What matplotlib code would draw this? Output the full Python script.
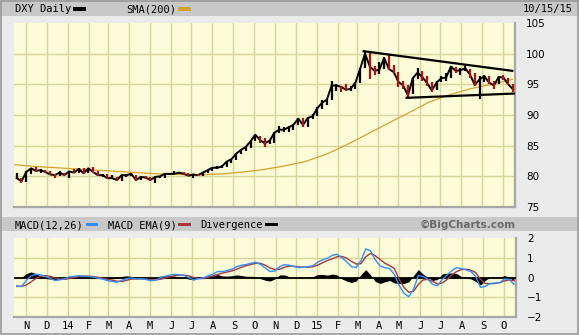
import matplotlib
matplotlib.use('Agg')
import matplotlib.pyplot as plt
from matplotlib.patches import Rectangle
import pandas as pd

W, H = 579, 335

# weekly bars (Fri closes, last one is 10/15/15)
week_dates = pd.date_range('2013-10-18', periods=105, freq='W-FRI')
close = [79.7, 79.2, 80.7, 81.3, 80.9, 81.0, 80.7, 80.3, 80.2, 80.6,
         80.2, 80.8, 80.6, 81.2, 80.5, 81.3, 80.7, 80.2, 80.2, 79.7,
         79.7, 79.4, 80.2, 80.2, 80.4, 79.4, 79.9, 79.8, 79.4, 79.9,
         80.0, 80.4, 80.4, 80.4, 80.6, 80.4, 80.1, 80.3, 80.2, 80.6,
         81.0, 81.4, 81.4, 81.6, 82.4, 82.8, 83.7, 84.3, 84.8, 85.7,
         86.8, 85.9, 85.4, 85.8, 87.1, 87.6, 87.6, 88.0, 88.4, 89.4,
         88.4, 89.5, 89.8, 91.1, 92.0, 92.5, 94.8, 94.8, 94.6, 94.1,
         94.3, 95.3, 97.6, 100.0, 97.9, 97.2, 97.4, 99.3, 97.5, 97.0,
         95.4, 94.8, 93.2, 96.0, 96.9, 96.2, 95.2, 94.0, 95.3, 96.0,
         96.1, 97.9, 97.2, 97.3, 97.6, 96.6, 94.9, 95.8, 96.3, 95.3,
         94.8, 96.2, 96.1, 95.0, 94.2]
high = [80.6, 79.8, 80.8, 81.4, 81.5, 81.2, 81.0, 80.9, 80.4, 80.8,
        80.6, 80.9, 81.2, 81.3, 81.4, 81.4, 81.5, 80.8, 80.4, 80.4,
        80.2, 79.9, 80.4, 80.4, 80.6, 80.2, 80.0, 80.0, 79.9, 79.9,
        80.1, 80.4, 80.6, 80.8, 80.7, 80.7, 80.5, 80.4, 80.4, 80.7,
        81.1, 81.6, 81.7, 81.8, 82.4, 82.8, 83.8, 84.4, 84.9, 85.8,
        86.8, 86.5, 86.2, 86.0, 87.2, 88.2, 88.0, 88.2, 88.5, 89.5,
        89.5, 89.6, 90.1, 91.3, 92.4, 92.6, 95.5, 95.1, 94.8, 95.0,
        94.7, 95.4, 97.7, 100.4, 100.3, 98.0, 98.6, 99.4, 100.0, 98.1,
        97.0, 95.6, 94.9, 96.1, 97.6, 97.1, 96.4, 95.4, 95.6, 96.3,
        96.9, 98.0, 97.9, 97.6, 98.2, 97.5, 96.9, 96.3, 96.6, 96.4,
        95.5, 96.4, 96.6, 96.0, 95.1]
low = [79.6, 78.9, 79.1, 80.3, 80.7, 80.5, 80.5, 80.2, 79.8, 80.0,
       80.0, 79.8, 80.5, 80.5, 80.4, 80.5, 80.6, 80.1, 79.9, 79.6,
       79.6, 79.3, 79.3, 79.9, 80.0, 79.3, 79.4, 79.6, 79.2, 78.9,
       79.8, 79.8, 80.2, 80.3, 80.3, 80.2, 80.0, 79.8, 80.0, 80.1,
       80.5, 80.9, 81.2, 81.3, 81.6, 82.2, 82.7, 83.6, 84.2, 84.6,
       85.7, 85.5, 84.8, 85.2, 85.5, 87.1, 87.3, 87.3, 87.6, 88.3,
       88.1, 88.0, 89.4, 89.8, 91.0, 91.6, 92.5, 93.9, 93.8, 94.0,
       93.9, 94.2, 95.2, 97.6, 95.8, 96.5, 96.7, 97.5, 97.4, 96.9,
       94.6, 94.3, 93.0, 93.4, 95.9, 95.5, 94.8, 93.7, 94.0, 95.3,
       95.6, 96.0, 96.9, 96.5, 97.1, 96.0, 94.8, 92.6, 95.3, 95.1,
       94.2, 95.0, 95.7, 94.9, 93.8]

sma_dates = pd.date_range('2013-10-01', periods=25, freq='MS') + pd.Timedelta(days=14)
sma200 = [81.9, 81.6, 81.4, 81.2, 81.0, 80.8, 80.6, 80.4, 80.3, 80.25,
          80.4, 80.7, 81.1, 81.7, 82.4, 83.6, 85.2, 86.8, 88.6, 90.3,
          92.1, 93.3, 94.3, 95.0, 95.8]

# trend lines drawn on the chart
upper_line = (['2015-03-11', '2015-10-15'], [100.4, 97.2])
lower_line = (['2015-05-13', '2015-10-19'], [92.8, 93.5])

macd = [-0.43, -0.45, -0.15, 0.08, 0.16, 0.14, 0.05, -0.04, -0.15, -0.12,
        -0.06, 0.02, 0.06, 0.09, 0.06, 0.06, 0.02, -0.04, -0.08, -0.16,
        -0.20, -0.24, -0.14, -0.06, -0.02, -0.08, -0.06, -0.10, -0.16, -0.14,
        -0.02, 0.06, 0.12, 0.16, 0.14, 0.10, 0.00, -0.12, -0.06, -0.02,
        0.08, 0.16, 0.30, 0.30, 0.35, 0.42, 0.55, 0.62, 0.66, 0.72,
        0.77, 0.66, 0.48, 0.30, 0.33, 0.55, 0.65, 0.62, 0.55, 0.50,
        0.52, 0.55, 0.60, 0.78, 0.90, 0.98, 1.12, 1.18, 1.00, 0.80,
        0.55, 0.50, 0.85, 1.45, 1.35, 0.90, 0.58, 0.50, 0.45, 0.15,
        -0.40, -0.80, -0.97, -0.60, 0.10, 0.05, -0.10, -0.35, -0.42, -0.10,
        0.12, 0.35, 0.50, 0.45, 0.38, 0.30, 0.05, -0.50, -0.45, -0.30,
        -0.28, -0.26, -0.08, -0.10, -0.34]
macd_ema = [-0.45, -0.45, -0.38, -0.22, -0.05, 0.06, 0.10, 0.06, -0.02, -0.08,
            -0.09, -0.05, 0.00, 0.05, 0.07, 0.06, 0.05, 0.01, -0.04, -0.09,
            -0.14, -0.19, -0.20, -0.14, -0.08, -0.07, -0.07, -0.08, -0.11, -0.13,
            -0.09, -0.03, 0.04, 0.09, 0.12, 0.12, 0.08, 0.00, -0.05, -0.05,
            0.00, 0.08, 0.15, 0.22, 0.28, 0.33, 0.42, 0.52, 0.60, 0.66,
            0.72, 0.72, 0.62, 0.48, 0.40, 0.42, 0.52, 0.58, 0.57, 0.54,
            0.52, 0.52, 0.55, 0.63, 0.75, 0.86, 0.95, 1.05, 1.07, 0.98,
            0.82, 0.68, 0.70, 1.05, 1.22, 1.10, 0.92, 0.72, 0.60, 0.45,
            -0.10, -0.50, -0.75, -0.70, -0.35, -0.12, -0.10, -0.20, -0.32, -0.28,
            -0.10, 0.12, 0.30, 0.40, 0.42, 0.37, 0.25, -0.10, -0.30, -0.32,
            -0.30, -0.26, -0.18, -0.12, -0.16]
divergence = [0.02, 0.00, 0.20, 0.28, 0.20, 0.08, -0.05, -0.08, -0.12, -0.04,
              0.03, 0.07, 0.06, 0.04, -0.01, 0.00, -0.03, -0.05, -0.04, -0.07,
              -0.06, -0.05, 0.06, 0.08, 0.06, -0.01, 0.01, -0.02, -0.05, -0.01,
              0.07, 0.09, 0.08, 0.07, 0.02, -0.02, -0.08, -0.12, -0.01, 0.03,
              0.08, 0.08, 0.15, 0.08, 0.07, 0.09, 0.13, 0.10, 0.06, 0.06,
              0.05, -0.06, -0.14, -0.18, -0.07, 0.13, 0.13, 0.04, -0.02, -0.04,
              0.00, 0.03, 0.05, 0.15, 0.15, 0.12, 0.17, 0.13, -0.07, -0.18,
              -0.25, -0.18, 0.15, 0.40, 0.13, -0.20, -0.30, -0.22, -0.15, -0.28,
              -0.30, -0.30, -0.22, 0.10, 0.40, 0.17, 0.00, -0.15, -0.10, 0.18,
              0.22, 0.23, 0.20, 0.05, -0.04, -0.07, -0.20, -0.38, -0.15, 0.02,
              0.02, 0.00, 0.10, 0.02, -0.18]

month_labels = ['N', 'D', '14', 'F', 'M', 'A', 'M', 'J', 'J', 'A', 'S', 'O',
                'N', 'D', '15', 'F', 'M', 'A', 'M', 'J', 'J', 'A', 'S', 'O']
price_ticks = [75, 80, 85, 90, 95, 100, 105]
macd_ticks = [-2, -1, 0, 1, 2]

BG = '#ebebeb'
BAR = '#c8c8c8'
PANEL = '#fcfcd8'
GRID = '#d8d49c'
UP, DOWN = '#000000', '#b01010'
SMA_C = '#d9a030'
BLUE, RED = '#2f8fff', '#a83838'


def fx(x):
    return x / W


def fy(y):
    return 1 - y / H


def rect(fig, x0, y0, x1, y1, color, z=0, **kw):
    fig.patches.append(Rectangle((fx(x0), fy(y1)), fx(x1) - fx(x0), fy(y0) - fy(y1),
                                 transform=fig.transFigure, facecolor=color,
                                 zorder=z, **kw))


fig = plt.figure(figsize=(W / 100, H / 100), dpi=100)
fig.patch.set_facecolor(BG)
rect(fig, 0, 0, W, 16, BAR)
rect(fig, 0, 217, W, 231, BAR)
rect(fig, 0.5, 0.5, W - 1, H - 1.5, 'none', edgecolor='#9a9a9a', linewidth=1.2)

mono = 'DejaVu Sans Mono'
fig.text(fx(15), fy(9), 'DXY Daily', family=mono, fontsize=7.5, va='center')
rect(fig, 73, 7.5, 86, 11, UP)
fig.text(fx(126), fy(9), 'SMA(200)', family=mono, fontsize=7.5, va='center')
rect(fig, 178, 7.5, 191, 11, SMA_C)
fig.text(fx(573), fy(9), '10/15/15', family=mono, fontsize=7.5, va='center', ha='right')

fig.text(fx(15), fy(225), 'MACD(12,26)', family=mono, fontsize=7.5, va='center')
rect(fig, 86, 222.5, 98, 226, BLUE)
fig.text(fx(108), fy(225), 'MACD EMA(9)', family=mono, fontsize=7.5, va='center')
rect(fig, 178, 222.5, 191, 226, RED)
fig.text(fx(200), fy(225), 'Divergence', family=mono, fontsize=7.5, va='center')
rect(fig, 265, 222.5, 278, 226, UP)
fig.text(fx(516), fy(225), '\u00a9BigCharts.com', fontsize=7.5, fontweight='bold',
         color='#6a6a6a', va='center', ha='right')

xmin, xmax = pd.Timestamp('2013-10-14'), pd.Timestamp('2015-10-19')
month_starts = pd.date_range('2013-11-01', periods=len(month_labels), freq='MS')


def style_panel(ax, ylim, yticks):
    ax.set_facecolor(PANEL)
    ax.set_xlim(xmin, xmax)
    ax.set_ylim(*ylim)
    ax.set_xticks(month_starts)
    ax.set_yticks(yticks)
    for d in month_starts:
        ax.axvline(d, color=GRID, lw=1.0, zorder=1)
    for v in yticks[1:-1]:
        ax.axhline(v, color=GRID, lw=1.0, zorder=1)
    ax.yaxis.tick_right()
    ax.tick_params(length=0, labelsize=7.5)
    ax.tick_params(axis='y', pad=8)
    for lbl in ax.get_yticklabels():
        lbl.set_horizontalalignment('left')
    for side in ('left', 'top'):
        ax.spines[side].set_visible(False)
    for side in ('right', 'bottom'):
        ax.spines[side].set_color('#a8a8a8')
        ax.spines[side].set_linewidth(1.6)


# price panel
ax = fig.add_axes([fx(14), fy(207), fx(515) - fx(14), fy(23) - fy(207)])
style_panel(ax, (75, 105), price_ticks)
ax.set_xticklabels([])
ax.plot(sma_dates, sma200, color=SMA_C, lw=0.9, zorder=2)
colors = [UP] + [UP if close[i] >= close[i - 1] else DOWN for i in range(1, len(close))]
ax.plot(week_dates, close, color=UP, lw=1.4, zorder=3)
ax.vlines(week_dates, low, high, colors=colors, lw=1.6, zorder=3)
for xs, ys in (upper_line, lower_line):
    ax.plot(pd.to_datetime(xs), ys, color='black', lw=1.6, zorder=4)

# MACD panel
ax2 = fig.add_axes([fx(14), fy(317), fx(516) - fx(14), fy(238) - fy(317)])
style_panel(ax2, (-2, 2), macd_ticks)
ax2.set_yticklabels(['\u22122', '\u22121', '0', '1', '2'])
ax2.set_xticklabels(month_labels, family=mono, fontsize=7.5)
ax2.tick_params(axis='x', pad=3)
ax2.fill_between(week_dates, divergence, 0, color='black', lw=0, zorder=2)
ax2.axhline(0, color='black', lw=1.3, zorder=3)
ax2.plot(week_dates, macd_ema, color=RED, lw=1.0, zorder=4)
ax2.plot(week_dates, macd, color=BLUE, lw=1.0, zorder=5)

fig.savefig('out.png', dpi=100, facecolor=BG)
